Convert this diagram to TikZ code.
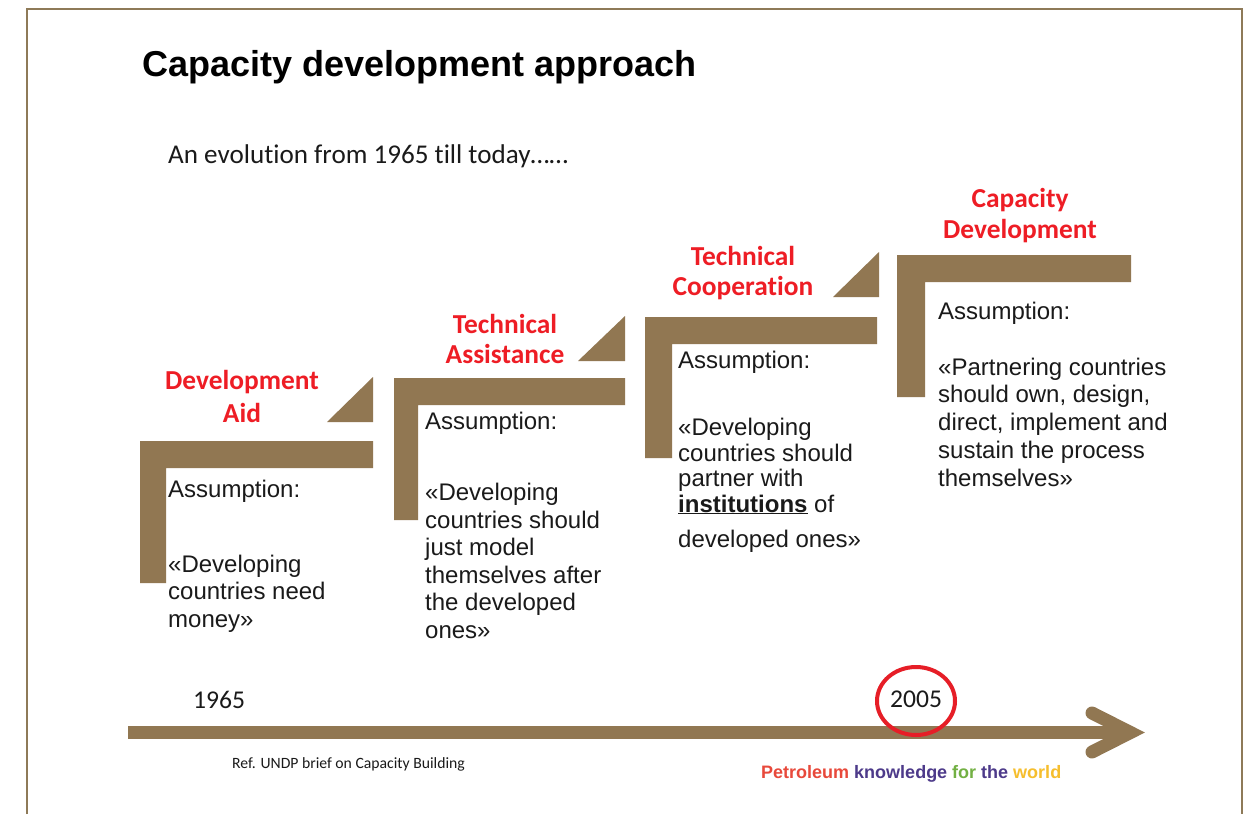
\documentclass[tikz,border=0pt]{standalone}
\usepackage{fontspec}
\setmainfont{Liberation Sans}
\newfontfamily\calib[Ligatures=NoCommon]{Carlito}
\definecolor{stepbrown}{HTML}{917752}
\definecolor{framebrown}{HTML}{8E7A58}
\definecolor{labelred}{HTML}{EE1D25}
\definecolor{circred}{HTML}{E61E27}
\definecolor{textdark}{HTML}{1A1A1A}
\definecolor{tagred}{HTML}{E8493B}
\definecolor{tagpurple}{HTML}{4D3A8A}
\definecolor{taggreen}{HTML}{72B043}
\definecolor{tagyellow}{HTML}{F6BE2D}
\begin{document}
\begin{tikzpicture}[x=1pt,y=-1pt,
  bar/.style={fill=stepbrown},
  lbl/.style={font=\calib\bfseries\fontsize{27.4}{31}\selectfont, text=labelred, align=center, anchor=base, inner sep=0},
  txt/.style={font=\fontsize{24}{27.5}\selectfont, align=left, anchor=base west, inner sep=0, text=textdark},
  year/.style={font=\calib\fontsize{25.6}{30}\selectfont, anchor=base west, inner sep=0, text=textdark}]
\useasboundingbox (0,0) rectangle (1245,814);
\fill[white] (0,0) rectangle (1245,814);
% frame
\draw[framebrown, line width=2] (27,814) -- (27,9) -- (1242,9) -- (1242,814);
% title
\node[anchor=base west, inner sep=0, font=\bfseries\fontsize{36}{40}\selectfont] (title) at (142,76) {Capacity development approach};
\node[anchor=base west, inner sep=0, font=\calib\fontsize{27.1}{30}\selectfont, text=textdark] (sub) at (168,163) {An evolution from 1965 till today……};
% step 1
\fill[bar] (140,441) -- (373,441) -- (373,468) -- (166,468) -- (166,583) -- (140,583) -- cycle;
\fill[bar] (373,377) -- (373,422) -- (327,422) -- cycle;
\node[lbl] (l1) at (242,422) {Development\\[2pt]Aid};
\node[txt] (t1) at (168,627) {Assumption:\\[47.5pt]«Developing\\countries need\\money»};
% step 2
\fill[bar] (394,378) -- (625,378) -- (625,405) -- (418,405) -- (418,520) -- (394,520) -- cycle;
\fill[bar] (625,316) -- (625,361) -- (578,361) -- cycle;
\node[lbl] (l2) at (505,363) {Technical\\[-1pt]Assistance};
\node[txt] (t2) at (425,638) {Assumption:\\[43.5pt]«Developing\\countries should\\just model\\themselves after\\the developed\\ones»};
% step 3
\fill[bar] (645,317) -- (877,317) -- (877,344) -- (672,344) -- (672,458) -- (645,458) -- cycle;
\fill[bar] (879,252) -- (879,297) -- (833,297) -- cycle;
\node[lbl] (l3) at (743,295) {Technical\\[-1pt]Cooperation};
\node[txt, font=\fontsize{24}{25.5}\selectfont] (t3) at (678,547) {Assumption:\\[41.5pt]«Developing\\countries should\\partner with\\\underline{\textbf{institutions}} of\\[9.5pt]developed ones»};
% step 4
\fill[bar] (897,255) -- (1131,255) -- (1131,282) -- (925,282) -- (925,397) -- (897,397) -- cycle;
\node[lbl] (l4) at (1020,238) {Capacity\\Development};
\node[txt, font=\fontsize{24}{27.7}\selectfont] (t4) at (938,486) {Assumption:\\[28.3pt]«Partnering countries\\should own, design,\\direct, implement and\\sustain the process\\themselves»};
% timeline
\coordinate (tstart) at (128,732.5);
\coordinate (ttip) at (1130.5,732.5);
\coordinate (armup) at (1092,713);
\coordinate (armdn) at (1092,752);
\draw[stepbrown, line width=13] (tstart) -- (ttip);
\draw[stepbrown, line width=13, line cap=round, line join=miter] (armup) -- (ttip) -- (armdn);
\node[year] (y1965) at (193,708) {1965};
\node[year] (y2005) at (890,707) {2005};
\draw[circred, line width=4] (916,701) ellipse [x radius=39, y radius=34];
% footer
\node[anchor=base west, inner sep=0, font=\calib\fontsize{15.7}{18}\selectfont, text=textdark] (ref) at (232,768) {Ref. UNDP brief on Capacity Building};
\node[anchor=base west, inner sep=0, font=\bfseries\fontsize{18}{20}\selectfont] (tag) at (761,778) {\textcolor{tagred}{Petroleum} \textcolor{tagpurple}{knowledge} \textcolor{taggreen}{for} \textcolor{tagpurple}{the} \textcolor{tagyellow}{world}};
\end{tikzpicture}
\end{document}
